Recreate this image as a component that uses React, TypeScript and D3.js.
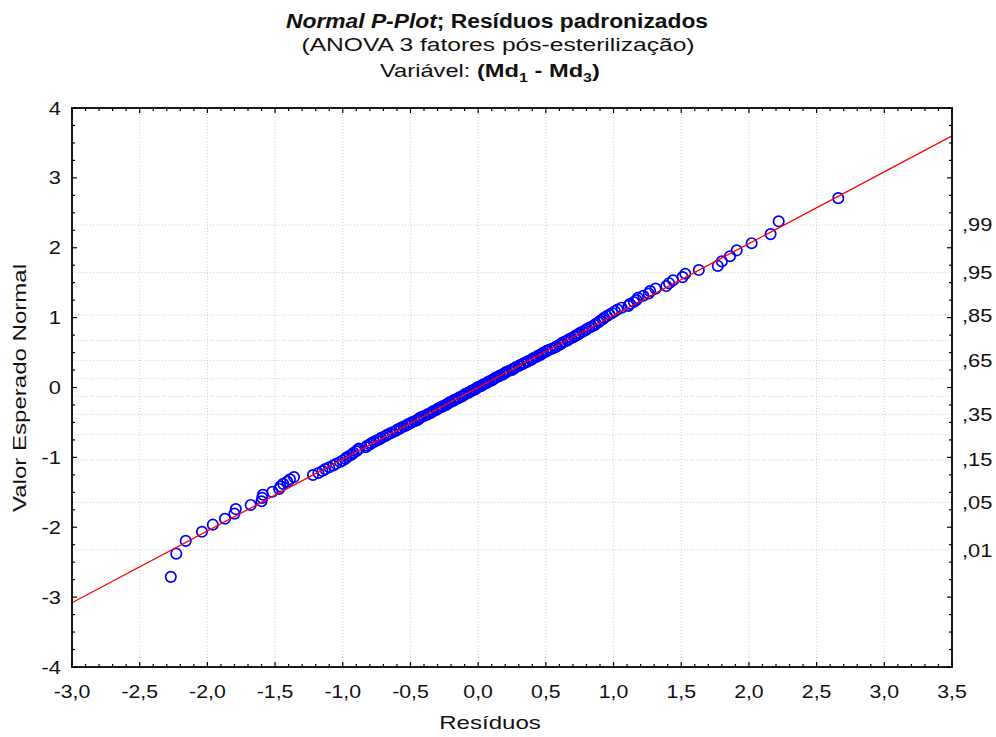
import React, { useEffect, useRef } from 'react';
import * as d3 from 'd3';

// residuals (sorted) and their expected normal values
const residuals = [
  -2.27, -2.23, -2.16, -2.04, -1.96, -1.87, -1.80, -1.79, -1.68, -1.60,
  -1.595, -1.59, -1.52, -1.47, -1.46, -1.44, -1.41, -1.39, -1.36, -1.22,
  -1.18, -1.15, -1.13, -1.10, -1.07, -1.05, -1.02, -1.00, -0.98, -0.97,
  -0.95, -0.93, -0.92, -0.90, -0.89, -0.88, -0.83, -0.82, -0.80, -0.79,
  -0.77, -0.75, -0.73, -0.72, -0.70, -0.68, -0.67, -0.65, -0.63, -0.61,
  -0.60, -0.58, -0.57, -0.55, -0.53, -0.52, -0.50, -0.49, -0.47, -0.45,
  -0.44, -0.43, -0.42, -0.40, -0.38, -0.37, -0.35, -0.34, -0.33, -0.31,
  -0.30, -0.29, -0.27, -0.26, -0.24, -0.23, -0.22, -0.21, -0.19, -0.18,
  -0.17, -0.15, -0.14, -0.12, -0.11, -0.10, -0.09, -0.07, -0.06, -0.05,
  -0.03, -0.02, -0.01,
  0.00, 0.02, 0.03, 0.04, 0.06, 0.07, 0.08, 0.10, 0.11, 0.12,
  0.13, 0.15, 0.16, 0.18, 0.19, 0.20, 0.21, 0.23, 0.25, 0.26,
  0.27, 0.28, 0.30, 0.31, 0.33, 0.34, 0.36, 0.37, 0.39, 0.40,
  0.41, 0.43, 0.44, 0.46, 0.47, 0.48, 0.50, 0.51, 0.53, 0.55,
  0.57, 0.58, 0.60, 0.61, 0.62, 0.64, 0.66, 0.67, 0.69, 0.71,
  0.72, 0.74, 0.75, 0.77, 0.79, 0.80, 0.82, 0.84, 0.86, 0.87,
  0.89, 0.90, 0.92, 0.93, 0.95, 0.97, 0.99, 1.01, 1.03, 1.06,
  1.11, 1.12, 1.15, 1.17, 1.18, 1.22, 1.26, 1.27, 1.31, 1.39,
  1.41, 1.44, 1.51, 1.53, 1.63, 1.77, 1.80, 1.86, 1.91, 2.02,
  2.16, 2.22, 2.66,
];

const expectedNormal = [
  -2.71, -2.378, -2.195, -2.065, -1.963, -1.878, -1.805, -1.740, -1.681, -1.628,
  -1.580, -1.535, -1.493, -1.452, -1.415, -1.379, -1.345, -1.313, -1.282, -1.252,
  -1.223, -1.195, -1.168, -1.142, -1.116, -1.092, -1.067, -1.044, -1.021, -0.998,
  -0.976, -0.955, -0.934, -0.913, -0.893, -0.873, -0.854, -0.834, -0.815, -0.797,
  -0.778, -0.760, -0.743, -0.725, -0.708, -0.691, -0.673, -0.657, -0.640, -0.623,
  -0.607, -0.591, -0.575, -0.559, -0.544, -0.528, -0.513, -0.497, -0.482, -0.467,
  -0.452, -0.437, -0.422, -0.408, -0.393, -0.379, -0.365, -0.350, -0.336, -0.322,
  -0.308, -0.294, -0.280, -0.266, -0.252, -0.239, -0.225, -0.211, -0.198, -0.184,
  -0.171, -0.157, -0.142, -0.128, -0.115, -0.101, -0.088, -0.074, -0.061, -0.047,
  -0.034, -0.020, -0.007,
  0.007, 0.020, 0.034, 0.047, 0.061, 0.074, 0.088, 0.101, 0.115, 0.128,
  0.142, 0.157, 0.171, 0.184, 0.198, 0.211, 0.225, 0.239, 0.252, 0.266,
  0.280, 0.294, 0.308, 0.322, 0.336, 0.350, 0.365, 0.379, 0.393, 0.408,
  0.422, 0.437, 0.452, 0.467, 0.482, 0.497, 0.513, 0.528, 0.544, 0.559,
  0.575, 0.591, 0.607, 0.623, 0.640, 0.657, 0.673, 0.691, 0.708, 0.725,
  0.743, 0.760, 0.778, 0.797, 0.815, 0.834, 0.854, 0.873, 0.893, 0.913,
  0.934, 0.955, 0.976, 0.998, 1.021, 1.044, 1.067, 1.092, 1.116, 1.142,
  1.168, 1.195, 1.223, 1.252, 1.282, 1.313, 1.345, 1.379, 1.415, 1.452,
  1.493, 1.535, 1.580, 1.628, 1.681, 1.740, 1.805, 1.878, 1.963, 2.065,
  2.195, 2.378, 2.71,
];

// fitted reference line
const fitIntercept = 0.003;
const fitSlope = 1.028;

const xTicks = [-3.0, -2.5, -2.0, -1.5, -1.0, -0.5, 0.0, 0.5, 1.0, 1.5, 2.0, 2.5, 3.0, 3.5];
const yTicks = [-4, -3, -2, -1, 0, 1, 2, 3, 4];

// probability scale on the right (z of each probability)
const probZ = [-2.326, -1.645, -1.036, -0.674, -0.385, -0.126, 0.126, 0.385, 0.674, 1.036, 1.645, 2.326];
const probLabels = [',01', ',05', ',15', '', ',35', '', '', ',65', '', ',85', ',95', ',99'];

const FONT = '"Liberation Sans", Arial, sans-serif';

export default function App() {
  const ref = useRef<SVGSVGElement>(null);

  useEffect(() => {
    document.body.style.margin = '0';
    const svg = d3.select(ref.current);
    svg.selectAll('*').remove();

    const left = 72, right = 952, top = 108, bottom = 667;

    const x = d3.scaleLinear().domain([-3, 3.5]).range([left, right]);
    const y = d3.scaleLinear().domain([-4, 4]).range([bottom, top]);

    // the original text is a bit wider than plain Arial
    const label = (px: number, py: number, size: number, sx: number, extra = '') =>
      svg.append('text')
        .attr('transform', `translate(${px},${py}) ${extra} scale(${sx},1)`)
        .attr('font-family', FONT).attr('font-size', size).attr('fill', '#111');

    // grid
    const grid = svg.append('g').attr('stroke', '#cfcfcf').attr('stroke-width', 1)
      .attr('stroke-dasharray', '1,2');
    grid.selectAll('.vg').data(xTicks.slice(1, -1)).enter().append('line')
      .attr('x1', d => x(d)).attr('x2', d => x(d)).attr('y1', top).attr('y2', bottom);
    grid.selectAll('.hg').data(probZ).enter().append('line')
      .attr('y1', d => y(d)).attr('y2', d => y(d)).attr('x1', left).attr('x2', right);

    // points
    const pts = d3.zip(residuals, expectedNormal);
    svg.append('g').selectAll('circle').data(pts).enter().append('circle')
      .attr('cx', d => x(d[0])).attr('cy', d => y(d[1])).attr('r', 5.2)
      .attr('fill', 'none').attr('stroke', '#0000ff').attr('stroke-width', 1.7);

    // fit line
    svg.append('line')
      .attr('x1', x(-3)).attr('y1', y(fitIntercept + fitSlope * -3))
      .attr('x2', x(3.5)).attr('y2', y(fitIntercept + fitSlope * 3.5))
      .attr('stroke', '#ff0000').attr('stroke-width', 1.3);

    // ticks (inward on all sides)
    const ticks = svg.append('g').attr('stroke', '#000').attr('stroke-width', 1.2);
    const xMinor = d3.range(-30, 36).map(v => v / 10);
    const yMinor = d3.range(-16, 17).map(v => v / 4);
    xMinor.forEach(v => {
      const major = Math.abs(v * 2 - Math.round(v * 2)) < 1e-6;
      const len = major ? 5 : 3;
      ticks.append('line').attr('x1', x(v)).attr('x2', x(v)).attr('y1', bottom).attr('y2', bottom - len);
      ticks.append('line').attr('x1', x(v)).attr('x2', x(v)).attr('y1', top).attr('y2', top + len);
    });
    yMinor.forEach(v => {
      const major = Math.abs(v - Math.round(v)) < 1e-6;
      const len = major ? 5 : 3;
      ticks.append('line').attr('y1', y(v)).attr('y2', y(v)).attr('x1', left).attr('x2', left + len);
      ticks.append('line').attr('y1', y(v)).attr('y2', y(v)).attr('x1', right).attr('x2', right - len);
    });

    // frame
    svg.append('rect').attr('x', left).attr('y', top)
      .attr('width', right - left).attr('height', bottom - top)
      .attr('fill', 'none').attr('stroke', '#000').attr('stroke-width', 1.8);

    // tick labels
    const fmt = (v: number) => v.toFixed(1).replace('.', ',');
    xTicks.forEach(v => {
      label(x(v), 698, 19, 1.12).attr('text-anchor', 'middle').text(fmt(v));
    });
    yTicks.forEach(v => {
      label(61, y(v) + 6.5, 19, 1.15).attr('text-anchor', 'end').text(String(v));
    });
    probZ.forEach((z, i) => {
      if (probLabels[i] === '') return;
      label(962, y(z) + 6.5, 19, 1.15).text(probLabels[i]);
    });

    // axis titles
    label(490, 729, 18.5, 1.3).attr('text-anchor', 'middle').text('Resíduos');
    label(26, 388, 18.5, 1.3, 'rotate(-90)').attr('text-anchor', 'middle').text('Valor Esperado Normal');

    // titles
    const t1 = label(497, 28, 19.5, 1.17).attr('text-anchor', 'middle').attr('font-weight', 'bold');
    t1.append('tspan').attr('font-style', 'italic').text('Normal P-Plot');
    t1.append('tspan').text('; Resíduos padronizados');

    label(498, 51, 18.5, 1.33).attr('text-anchor', 'middle').text('(ANOVA 3 fatores pós-esterilização)');

    const t3 = label(490, 77, 18.5, 1.28).attr('text-anchor', 'middle');
    t3.append('tspan').text('Variável: ');
    t3.append('tspan').attr('font-weight', 'bold').text('(Md');
    t3.append('tspan').attr('font-weight', 'bold').attr('font-size', 12.5).attr('dy', 5).text('1');
    t3.append('tspan').attr('font-weight', 'bold').attr('dy', -5).text(' - Md');
    t3.append('tspan').attr('font-weight', 'bold').attr('font-size', 12.5).attr('dy', 5).text('3');
    t3.append('tspan').attr('font-weight', 'bold').attr('dy', -5).text(')');
  }, []);

  return <svg ref={ref} width={996} height={737} style={{ display: 'block', background: '#fff' }} />;
}
